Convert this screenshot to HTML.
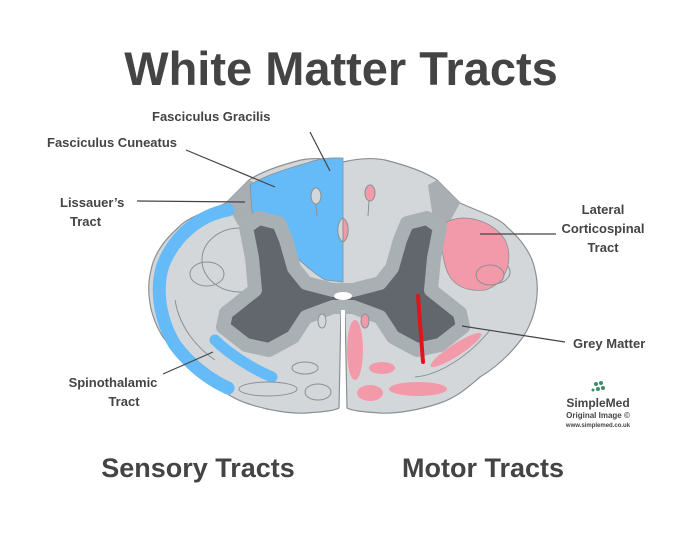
<!DOCTYPE html>
<html><head><meta charset="utf-8"><style>
body{margin:0;background:#fff;width:693px;height:547px;overflow:hidden}
svg{display:block}
text{font-family:"Liberation Sans",Arial,sans-serif;font-weight:bold;fill:#444}
</style></head><body>
<svg width="693" height="547" viewBox="0 0 693 547">
<text x="341" y="85" font-size="47" text-anchor="middle" fill="#3d3d3d">White Matter Tracts</text>
<path d="M343,162 C360,158 375,158 385,160 C405,165 425,172 437,180 L460,203 C480,212 500,218 507,227 C522,240 532,255 535,270 C540,290 537,315 523,337 C510,355 495,368 480,377 C465,390 455,398 440,403 C420,410 395,414 380,413 C365,412 352,411 347,408 L345,310 L341,310 L339,408 C334,411 321,412 306,413 C291,414 266,410 246,403 C231,398 221,390 206,377 C191,368 176,355 163,337 C149,315 146,290 151,270 C154,255 164,240 179,227 C186,218 206,212 226,203 L249,180 C261,172 281,165 301,160 C311,158 326,158 343,162 Z" fill="#d4d7da" stroke="#8a9095" stroke-width="1.2"/>
<path d="M226,203 L249,180 L258,185 L252,225 L238,225 Z" fill="#a9aeb2"/>
<path d="M460,203 L437,180 L428,185 L434,225 L448,225 Z" fill="#a9aeb2"/>
<path d="M250,185 C265,175 290,168 310,162 C325,157 335,158 343,158 L343,282 L325,280 C312,272 298,260 285,245 C272,232 258,222 252,212 Z" fill="#64bbf7" stroke="#8a9095" stroke-width="0.8"/>
<ellipse cx="316" cy="196" rx="5" ry="8" fill="#d4d7da" stroke="#8a9095"/>
<path d="M343,218 C336,222 336,238 343,242 Z" fill="#d4d7da" stroke="#8a9095"/>
<line x1="316" y1="204" x2="317" y2="216" stroke="#8a9095"/>
<ellipse cx="370" cy="193" rx="5" ry="8" fill="#f39aaa" stroke="#8a9095"/>
<path d="M343,218 C350,222 350,238 343,242 Z" fill="#f39aaa" stroke="#8a9095"/>
<line x1="369" y1="201" x2="368" y2="216" stroke="#8a9095"/>
<path d="M228,210 C200,215 175,235 163,265 C155,290 160,320 175,345 C190,365 210,380 228,388" fill="none" stroke="#64bbf7" stroke-width="13" stroke-linecap="round"/>
<path d="M215,340 C230,355 255,370 272,377" fill="none" stroke="#64bbf7" stroke-width="11" stroke-linecap="round"/>
<path d="M175,300 C180,330 200,350 215,360" fill="none" stroke="#8a9095" stroke-width="1"/>
<ellipse cx="240" cy="260" rx="38" ry="32" fill="none" stroke="#8a9095"/>
<ellipse cx="207" cy="274" rx="17" ry="12" fill="none" stroke="#8a9095"/>
<ellipse cx="493" cy="272" rx="17" ry="12" fill="none" stroke="#8a9095"/>
<path d="M447,222 C465,212 495,222 505,240 C515,260 505,285 485,290 C465,292 450,285 445,265 C440,245 440,228 447,222 Z" fill="#f39aaa" stroke="#8a9095" stroke-width="0.8"/>
<ellipse cx="490" cy="275" rx="14" ry="10" fill="#f39aaa" stroke="#8a9095"/>
<g stroke="#a9b0b3" stroke-width="14" stroke-linejoin="round">
<path d="M353,290 L380,283 L392,268 L400,240 L407,223 L427,218 L440,227 L434,258 L431,290 L460,313 L463,327 L440,345 L417,350 L393,337 L380,317 L353,307 L333,307 L306,317 L293,337 L269,350 L246,345 L223,327 L226,313 L255,290 L252,258 L246,227 L259,218 L279,223 L286,240 L294,268 L306,283 L333,290 Z" fill="#61676c"/>
</g>
<ellipse cx="343" cy="296" rx="9" ry="4" fill="#fff"/>
<path d="M341,310 L345,310 L345,408 L341,408 Z" fill="#fff"/>
<ellipse cx="322" cy="321" rx="4" ry="7" fill="#d4d7da" stroke="#8a9095"/>
<ellipse cx="365" cy="321" rx="4" ry="7" fill="#f39aaa" stroke="#8a9095"/>
<ellipse cx="355" cy="350" rx="8" ry="30" fill="#f39aaa"/>
<ellipse cx="382" cy="368" rx="13" ry="6" fill="#f39aaa"/>
<ellipse cx="370" cy="393" rx="13" ry="8" fill="#f39aaa"/>
<ellipse cx="418" cy="389" rx="29" ry="7" fill="#f39aaa"/>
<ellipse cx="456" cy="350" rx="30" ry="6" transform="rotate(-33 456 350)" fill="#f39aaa"/>
<ellipse cx="305" cy="368" rx="13" ry="6" fill="none" stroke="#8a9095"/>
<ellipse cx="318" cy="392" rx="13" ry="8" fill="none" stroke="#8a9095"/>
<ellipse cx="268" cy="389" rx="29" ry="7" fill="none" stroke="#8a9095"/>
<path d="M415,377 C440,375 470,355 490,330" fill="none" stroke="#8a9095"/>
<line x1="418" y1="296" x2="423" y2="362" stroke="#e0141b" stroke-width="4" stroke-linecap="round"/>
<g stroke="#444" stroke-width="1.2">
<line x1="310" y1="132" x2="330" y2="171"/>
<line x1="186" y1="150" x2="275" y2="187"/>
<line x1="137" y1="201" x2="245" y2="202"/>
<line x1="480" y1="234" x2="556" y2="234"/>
<line x1="462" y1="326" x2="565" y2="342"/>
<line x1="163" y1="374" x2="213" y2="352"/>
</g>
<g font-size="13">
<text x="152" y="121">Fasciculus Gracilis</text>
<text x="47" y="147">Fasciculus Cuneatus</text>
<text x="60" y="207">Lissauer’s</text>
<text x="70" y="226">Tract</text>
<text x="603" y="214" text-anchor="middle">Lateral</text>
<text x="603" y="233" text-anchor="middle">Corticospinal</text>
<text x="603" y="252" text-anchor="middle">Tract</text>
<text x="573" y="348">Grey Matter</text>
<text x="113" y="387" text-anchor="middle">Spinothalamic</text>
<text x="124" y="406" text-anchor="middle">Tract</text>
</g>
<g fill="#3f8f6a">
<circle cx="596" cy="384" r="2"/><circle cx="601" cy="383" r="2"/><circle cx="598" cy="389" r="2"/><circle cx="603" cy="388" r="2"/><circle cx="593" cy="390" r="1.5"/>
</g>
<text x="598" y="407" font-size="12" text-anchor="middle" fill="#3f8f6a">SimpleMed</text>
<text x="598" y="418" font-size="8" text-anchor="middle" fill="#3f8f6a">Original Image ©</text>
<text x="598" y="427" font-size="6" font-weight="normal" text-anchor="middle" fill="#888">www.simplemed.co.uk</text>
<text x="198" y="477" font-size="27" text-anchor="middle">Sensory Tracts</text>
<text x="483" y="477" font-size="27" text-anchor="middle">Motor Tracts</text>
</svg>
</body></html>
